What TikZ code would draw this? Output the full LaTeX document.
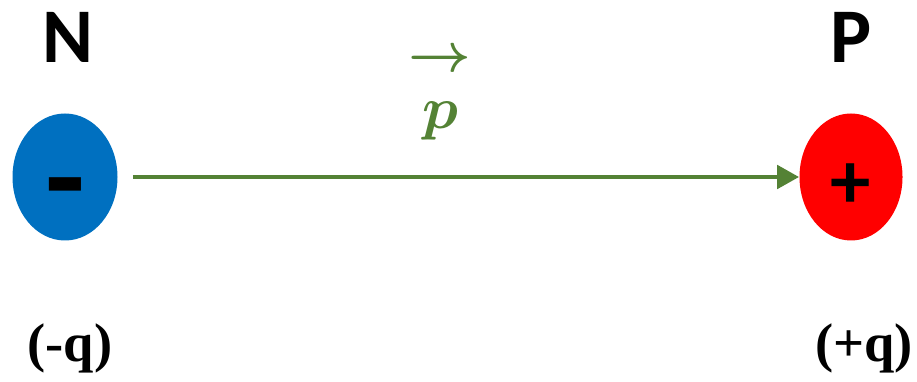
\documentclass[tikz,border=0pt]{standalone}
\usepackage{fontspec}
\usepackage{amsmath,bm}
\newfontfamily\labelfont{Carlito}
\newfontfamily\qfont{Liberation Serif}
\usetikzlibrary{positioning,arrows.meta,shapes.geometric}
\definecolor{dipgreen}{RGB}{84,130,53}
\definecolor{negblue}{RGB}{0,112,192}
\definecolor{posred}{RGB}{255,0,0}
\tikzset{
  chargenode/.style={ellipse, inner sep=0pt, minimum width=2.1cm, minimum height=2.54cm, font=\labelfont\bfseries\fontsize{46}{46}\selectfont},
  polelabel/.style={font=\labelfont\bfseries\fontsize{44}{44}\selectfont},
  qlabel/.style={font=\qfont\bfseries\fontsize{31}{31}\selectfont},
  veclabel/.style={text=dipgreen, inner sep=0pt},
  momarrow/.style={-{Triangle[length=4.4mm,width=4.6mm]}, line width=2.8pt, draw=dipgreen}
}

\begin{document}
\begin{tikzpicture}
  \useasboundingbox (0,0) rectangle (18.34,7.62);
  % charges
  \node[chargenode, fill=negblue] (neg) at (1.30,4.08) {\raisebox{-8.9mm}[0pt][0pt]{\fontsize{74}{74}\selectfont -}};
  \node[chargenode, fill=posred, minimum width=2.06cm] (pos) at (17.02,4.08) {\raisebox{-6.3mm}[0pt][0pt]{+}};
  % labels above and below
  \node[polelabel] (nlab) at (1.36,6.88) {N};
  \node[polelabel] (plab) at (17.02,6.88) {P};
  \node[qlabel] (negq) at (1.40,0.66) {(-q)};
  \node[qlabel] (posq) at (17.28,0.66) {(+q)};
  % dipole moment
  \draw[momarrow, shorten <=3mm] (neg) -- (pos);
  \node[veclabel] (pmom) at (8.80,5.20) {\scalebox{3.4}{$\bm{p}$}};
  \node[veclabel, above=0.6cm of pmom] (parrow) {\scalebox{3.1}{$\bm{\rightarrow}$}};
\end{tikzpicture}
\end{document}
